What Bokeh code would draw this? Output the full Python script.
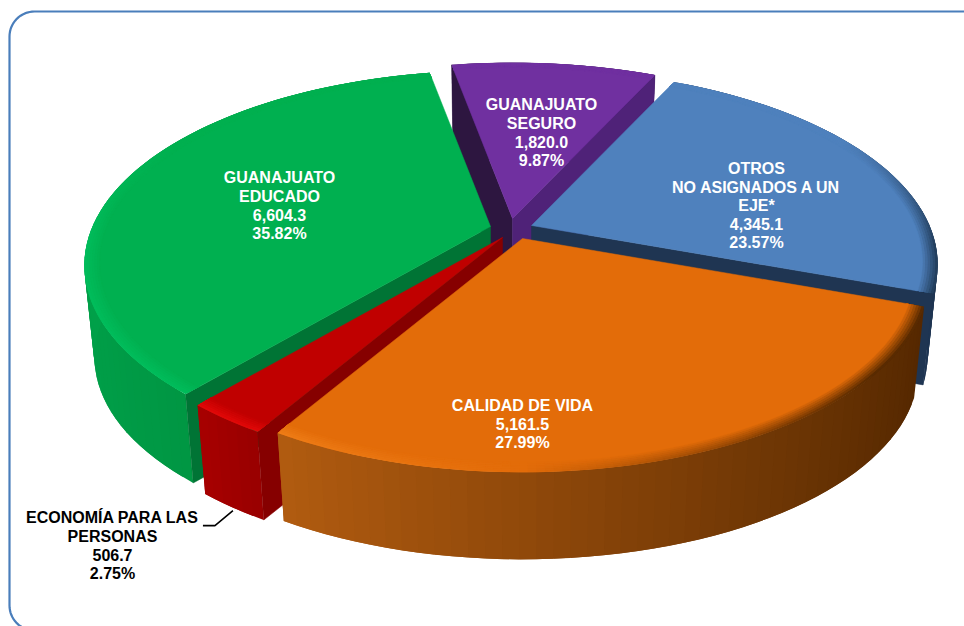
import math
from bokeh.plotting import figure
from bokeh.models import Range1d
from bokeh.core.properties import value
from bokeh.embed import file_html
from bokeh.resources import INLINE

# ---- data (clockwise from the first slice) ----
categories = ["OTROS", "CALIDAD DE VIDA", "ECONOMÍA PARA LAS PERSONAS", "GUANAJUATO EDUCADO", "GUANAJUATO SEGURO"]
amounts = [4345.1, 5161.5, 506.7, 6604.3, 1820.0]
percent_labels = ["23.57%", "27.99%", "2.75%", "35.82%", "9.87%"]
name_lines = [
    ["OTROS", "NO ASIGNADOS A UN", "EJE*"],
    ["CALIDAD DE VIDA"],
    ["ECONOMÍA PARA LAS", "PERSONAS"],
    ["GUANAJUATO", "EDUCADO"],
    ["GUANAJUATO", "SEGURO"],
]

# ---- styles / layout ----
START_ANGLE = 25.0
A, B, K = 398.0, 187.0, 0.2      # ellipse half axes and perspective
SHRINK, DEPTH = 0.975, 93.0      # lower face of the disc
apex = [(531, 225), (522, 238), (502, 237), (490, 226), (512, 218)]
top_col = ["#4F81BD", "#E36C09", "#C00000", "#00B050", "#7030A0"]
hi_col = ["#6F9BD0", "#EE7C16", "#E00808", "#00BC5B", "#8040B0"]
lo_col = ["#24405F", "#5A2B00", "#900000", "#008C3E", "#4F2278"]
side_left = ["#1F3552", "#B25C10", "#A80000", "#00A049", "#3A1A55"]
side_right = ["#1F3552", "#552800", "#9A0000", "#008A3C", "#3A1A55"]
wall_start = ["#1F3552", "#8A4500", "#860000", "#007435", "#2D1640"]
wall_end = ["#1F3552", "#5A2B00", "#860000", "#007435", "#4F2278"]
draw_order = [4, 3, 0, 2, 1]
label_col = ["white", "white", "black", "white", "white"]
label_x = [756, 522, 112, 279, 541]
label_y0 = [168, 405, 517, 177, 104]
LINE_H = 18.5


def hex2rgb(h):
    return tuple(int(h[i:i + 2], 16) for i in (1, 3, 5))


def mix(c1, c2, f):
    f = max(0.0, min(1.0, f))
    a, b = hex2rgb(c1), hex2rgb(c2)
    return "#%02x%02x%02x" % tuple(round(a[i] + (b[i] - a[i]) * f) for i in range(3))


def top(t, ap, r=1.0):
    u, v = r * math.sin(math.radians(t)), r * math.cos(math.radians(t))
    den = 1 + K * v
    return ap[0] + A * u / den, ap[1] - B * v / den


def bot(t, ap, r=1.0):
    x, y = top(t, ap, r)
    return ap[0] + (x - ap[0]) * SHRINK, ap[1] + (y - ap[1]) * SHRINK + DEPTH


def arc(a0, a1, n):
    return [a0 + (a1 - a0) * i / n for i in range(n + 1)]


total = sum(amounts)
edges = [START_ANGLE]
for amt in amounts:
    edges.append(edges[-1] + amt / total * 360)

p = figure(width=964, height=626, x_range=Range1d(0, 964), y_range=Range1d(626, 0),
           output_backend="svg", toolbar_location=None, min_border=0,
           background_fill_color="white", outline_line_color=None)
p.axis.visible = False
p.grid.visible = False

# rounded chart-area border
L, T, R_, Bm, rad = 9, 11, 1000, 630, 25
bx, by = [], []
for cx, cy, a0 in [(L + rad, T + rad, 180), (R_ - rad, T + rad, 270), (R_ - rad, Bm - rad, 0), (L + rad, Bm - rad, 90)]:
    for a in arc(a0, a0 + 90, 16):
        bx.append(cx + rad * math.cos(math.radians(a)))
        by.append(cy + rad * math.sin(math.radians(a)))
bx.append(bx[0]); by.append(by[0])
p.line(bx, by, line_color="#4A7EBB", line_width=2.2)

for i in draw_order:
    t0, t1 = edges[i], edges[i + 1]
    ap = apex[i]
    # outer side: each strip runs on under the next one, so no seams show
    n = max(6, int((t1 - t0) / 2))
    ts = arc(t0, t1, n)
    us = [math.sin(math.radians(t)) for t in ts]
    umin, umax = min(us), max(us)
    xs, ys, cs = [], [], []
    for j in range(n):
        a, b_ = ts[j], ts[min(j + 2, n)]
        q0, q1, q2, q3 = top(a, ap), top(b_, ap), bot(b_, ap), bot(a, ap)
        xs.append([q0[0], q1[0], q2[0], q3[0]])
        ys.append([q0[1], q1[1], q2[1], q3[1]])
        cs.append(mix(side_left[i], side_right[i], (us[j] - umin) / (umax - umin)))
    p.patches(xs, ys, fill_color=cs, line_color=None)

    # radial walls, only those facing the viewer
    ap_bot = (ap[0], ap[1] + DEPTH)
    walls = []
    if math.sin(math.radians(t0)) < 0:
        walls.append((t0, wall_start[i]))
    if math.sin(math.radians(t1)) > 0:
        walls.append((t1, wall_end[i]))
    for t, c in walls:
        q0, q1 = top(t, ap), bot(t, ap)
        p.patch([ap[0], q0[0], q1[0], ap_bot[0]], [ap[1], q0[1], q1[1], ap_bot[1]],
                fill_color=c, line_color=c, line_width=0.5)

    # rim: nested shapes from the outside in, fading to the face colour
    n_rim = max(8, int(t1 - t0))
    ts2 = arc(t0, t1, n_rim)
    radii = [1.0, 0.994, 0.988, 0.982, 0.976, 0.97, 0.964]
    for k, r in enumerate(radii[:-1]):
        w = 1 - k / (len(radii) - 1)
        xs, ys, cs = [], [], []
        for j in range(n_rim):
            a, b_ = ts2[j], ts2[min(j + 2, n_rim)]
            q0, q1 = top(a, ap, radii[-1] - 0.005), top(b_, ap, radii[-1] - 0.005)
            q2, q3 = top(b_, ap, r), top(a, ap, r)
            um = math.sin(math.radians(a + 0.5))
            vm = math.cos(math.radians(a + 0.5))
            fade = min(1, max(0, (0.5 - vm) / 0.6))
            if um < 0:
                c = mix(top_col[i], hi_col[i], w * fade * min(1, -um * 2))
            else:
                c = mix(top_col[i], lo_col[i], w * fade * min(1, um * 1.3))
            xs.append([q0[0], q1[0], q2[0], q3[0]])
            ys.append([q0[1], q1[1], q2[1], q3[1]])
            cs.append(c)
        p.patches(xs, ys, fill_color=cs, line_color=None)

    # top face, inside the rim
    in_r = radii[-1]
    pts = [top(t, ap, in_r) for t in ts2]
    p.patch([ap[0]] + [q[0] for q in pts], [ap[1]] + [q[1] for q in pts],
            fill_color=top_col[i], line_color=top_col[i], line_width=0.5)

# leader for the small slice
mid = (edges[2] + edges[3]) / 2
lx, ly = bot(mid, apex[2])
p.line([lx - 30, lx - 18, lx], [ly + 18, ly + 18, ly + 3], line_color="black", line_width=1.6)

# labels
for i in range(len(amounts)):
    lines = name_lines[i] + [f"{amounts[i]:,.1f}", percent_labels[i]]
    p.text([label_x[i]] * len(lines), [label_y0[i] + LINE_H * j for j in range(len(lines))], text=lines,
           text_font=value("Liberation Sans"), text_font_style="bold", text_font_size="16px",
           text_color=label_col[i], text_align="center", text_baseline="middle")

open("out.html", "w").write(file_html(p, INLINE))
